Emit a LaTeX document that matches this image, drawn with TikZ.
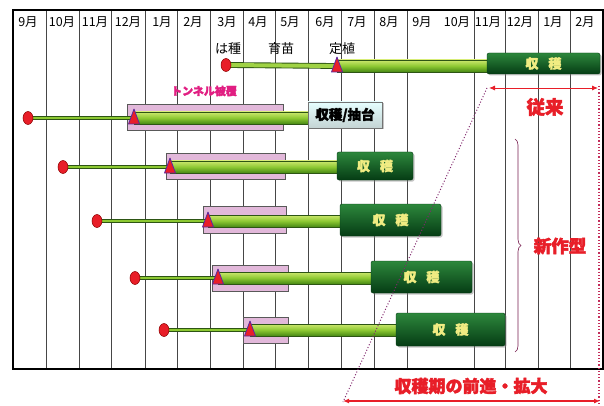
\documentclass[tikz,border=0pt]{standalone}
\usepackage{fontspec}
\setmainfont{Noto Sans CJK JP}
\newfontfamily\heavy{Noto Sans CJK JP}[BoldFeatures={FakeBold=2.5}]
\usetikzlibrary{calc,shadows,decorations.pathreplacing,arrows.meta,shapes.geometric}
\pgfdeclarelayer{bg}\pgfdeclarelayer{pinkl}\pgfdeclarelayer{barl}
\pgfsetlayers{bg,pinkl,barl,main}
\definecolor{gridc}{RGB}{70,70,70}
\definecolor{pinkc}{RGB}{226,184,218}
\definecolor{redc}{RGB}{232,30,40}
\definecolor{tric}{RGB}{90,40,160}
\definecolor{magc}{RGB}{225,30,130}
\definecolor{bardark}{RGB}{45,85,20}
\definecolor{barlight}{RGB}{205,232,110}
\definecolor{barmid}{RGB}{140,200,50}
\definecolor{barlow}{RGB}{70,135,20}
\definecolor{hvtop}{RGB}{45,135,60}
\definecolor{hvmid}{RGB}{15,95,35}
\definecolor{hvlow}{RGB}{5,60,20}
\definecolor{hvtext}{RGB}{240,236,130}
\definecolor{dotc}{RGB}{130,40,110}
\definecolor{vdotc}{RGB}{195,45,90}
\definecolor{bracec}{RGB}{120,30,80}
\begin{document}
\begin{tikzpicture}[x=1pt,y=-1pt,
  gridline/.style={draw=gridc,line width=0.8pt},
  month/.style={font=\fontsize{12.5}{14}\selectfont,inner sep=0pt},
  lbl/.style={font=\fontsize{13}{15}\selectfont,inner sep=0pt},
  pinkbox/.style={draw=black!65,fill=pinkc,line width=0.6pt,inner sep=0pt},
  sowc/.style={ellipse,draw=red!55!black,fill=redc,line width=0.5pt,minimum width=10pt,minimum height=13pt,inner sep=0pt},
  tri/.style={fill=redc,draw=tric,line width=0.8pt,line join=round},
  thinbar/.style={draw=bardark,double=barmid,double distance=2pt,line width=0.9pt},
  thinbarz/.style={draw=bardark,double=barmid!70!barlight,double distance=4pt,line width=0.9pt},
  thickbar/.style={top color=barlight,bottom color=barlow,middle color=barmid,draw=bardark,line width=0.4pt},
  harvest/.style={rounded corners=2pt,top color=hvtop,middle color=hvmid,bottom color=hvlow,draw=hvlow,
     drop shadow={shadow xshift=1.5pt,shadow yshift=-1.5pt,opacity=0.45},
     text=hvtext,font=\fontsize{13}{15}\selectfont\heavy\bfseries,inner sep=0pt},
  bolt/.style={draw=black!55,top color=white!90!cyan,bottom color=cyan!15!gray!40,
     drop shadow={shadow xshift=1.5pt,shadow yshift=-1.5pt,opacity=0.45},
     font=\fontsize{13.5}{15}\selectfont\heavy\bfseries,inner sep=0pt},
  redtxt/.style={text=redc,inner sep=0pt},
  redarrow/.style={draw=redc,{Latex[length=6pt,width=5pt]}-{Latex[length=6pt,width=5pt]}}
]
\useasboundingbox (0,0) rectangle (604,406);
% grid
\begin{pgfonlayer}{bg}
\fill[white] (0,0) rectangle (604,406);
\foreach \x in {46,79,111,145,177,210,243,275,308,341,374,407,474,505,538,570}
  \draw[gridline] (\x,10) -- (\x,369);
\draw[draw=black,line width=1.2pt] (603,10) -- (13,10) -- (13,369) -- (603,369) -- cycle;
\end{pgfonlayer}
\foreach \x/\m [count=\i] in {28/9,62/10,95/11,128/12,162/1,193/2,227/3,258/4,290/5,325/6,357/7,389/8,422/9,457/10,488/11,520/12,553/1,585/2}
  \node[month] (mon\i) at (\x,22) {\m 月};
% labels
\node[lbl] (sow) at (228,49) {は種};
\node[lbl] (nurs) at (281,49) {育苗};
\node[lbl] (plant) at (342,49) {定植};
\node[text=magc,font=\fontsize{11}{13}\selectfont\heavy\bfseries,inner sep=0pt] (tunnel) at (204,91) {トンネル被覆};
% pink boxes
\begin{pgfonlayer}{pinkl}
\node[pinkbox,minimum width=156pt,minimum height=26pt] (p1) at (205,117) {};
\node[pinkbox,minimum width=119pt,minimum height=26pt] (p2) at (225.5,166) {};
\node[pinkbox,minimum width=83pt,minimum height=27pt] (p3) at (244.5,219.5) {};
\node[pinkbox,minimum width=76pt,minimum height=26pt] (p4) at (250,278) {};
\node[pinkbox,minimum width=45pt,minimum height=26pt] (p5) at (265.5,330) {};
\end{pgfonlayer}
% harvest boxes
\node[harvest,minimum width=113pt,minimum height=21pt] (h0) at (543.5,63.5) {収\hspace{10pt}穫};
\node[bolt,minimum width=74pt,minimum height=26pt] (h1) at (345,115) {収穫/抽台};
\node[harvest,minimum width=76pt,minimum height=28pt] (h2) at (375,166) {収\hspace{10pt}穫};
\node[harvest,minimum width=101pt,minimum height=32pt] (h3) at (390.5,220) {収\hspace{10pt}穫};
\node[harvest,minimum width=101pt,minimum height=32pt] (h4) at (421.5,277) {収\hspace{10pt}穫};
\node[harvest,minimum width=109pt,minimum height=33pt] (h5) at (450.5,329.5) {収\hspace{10pt}穫};
% sowing circles
\node[sowc] (c0) at (226,65) {};
\node[sowc] (c1) at (28,118) {};
\node[sowc] (c2) at (63,167) {};
\node[sowc] (c3) at (97,221) {};
\node[sowc] (c4) at (135,278) {};
\node[sowc] (c5) at (164,330) {};
% planting points
\coordinate (t0) at (337,66);
\coordinate (t1) at (134,118);
\coordinate (t2) at (170,167);
\coordinate (t3) at (208,221);
\coordinate (t4) at (218,278);
\coordinate (t5) at (250,330);
\foreach \i in {0,...,5} {
  \coordinate (e\i) at (t\i -| h\i.west);
}
\begin{pgfonlayer}{barl}
\draw[thinbarz] (c0.center) -- (t0);
\foreach \i in {1,...,5} \draw[thinbar] (c\i.center) -- (t\i);
\foreach \i in {0,...,5} \shade[thickbar] ($(t\i)+(0,-6)$) rectangle ($(e\i)+(0,6)$);
\end{pgfonlayer}
\foreach \i in {0,...,5}
  \filldraw[tri] ($(t\i)+(-5.5,6)$) -- ($(t\i)+(0,-9)$) -- ($(t\i)+(5.5,6)$) -- cycle;
% conventional arrow
\coordinate (ca) at (489,88);
\coordinate (cb) at (598,88);
\draw[redarrow,line width=0.9pt] (ca) -- (cb);
\node[redtxt,font=\fontsize{18.5}{20}\selectfont\heavy\bfseries] (conv) at (545,107) {従来};
% brace
\draw[draw=bracec,line width=0.6pt,decorate,decoration={brace,amplitude=6pt}] (515,139) -- (515,352);
\node[redtxt,font=\fontsize{17.5}{19}\selectfont\heavy\bfseries] (newt) at (560,246) {新作型};
% dotted lines
\coordinate (da) at (487,88);
\coordinate (db) at (343,402);
\draw[draw=dotc,dotted,line width=1pt] (da) -- (db);
\coordinate (va) at (599,86);
\coordinate (vb) at (599,404);
\draw[draw=vdotc,dotted,line width=1.2pt] (va) -- (vb);
% bottom arrow
\coordinate (ba) at (343,401);
\coordinate (bb) at (600,401);
\draw[redarrow,line width=1.5pt] (ba) -- (bb);
\node[redtxt,font=\fontsize{17}{19}\selectfont\heavy\bfseries] (adv) at (471,386) {収穫期の前進・拡大};
\end{tikzpicture}
\end{document}
